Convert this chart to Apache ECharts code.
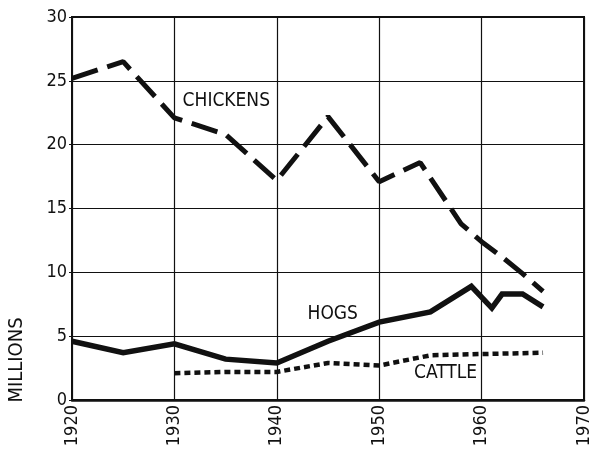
<!DOCTYPE html>
<html>
<head>
<meta charset="utf-8">
<script src="https://cdn.jsdelivr.net/npm/echarts@6/dist/echarts.min.js"></script>
<style>
  html, body { margin: 0; padding: 0; background: #ffffff; }
  #chart { width: 591px; height: 450px; }
</style>
</head>
<body>
<div id="chart"></div>
<script>
// Livestock and poultry on farms, millions head
const chickenYears  = [1920, 1925, 1930, 1935, 1940, 1945, 1950, 1954, 1958, 1960, 1962, 1964, 1966];
const chickenValues = [25.2, 26.5, 22.1, 20.8, 17.2, 22.2, 17.1, 18.6, 13.8, 12.4, 11.2, 9.9, 8.5];

const hogYears  = [1920, 1925, 1930, 1935, 1940, 1945, 1950, 1955, 1959, 1961, 1962, 1964, 1966];
const hogValues = [4.6, 3.7, 4.4, 3.2, 2.9, 4.6, 6.1, 6.9, 8.9, 7.2, 8.3, 8.3, 7.3];

const cattleYears  = [1930, 1935, 1940, 1945, 1950, 1955, 1960, 1966];
const cattleValues = [2.1, 2.2, 2.2, 2.9, 2.7, 3.5, 3.6, 3.7];

const xTicks = [1920, 1930, 1940, 1950, 1960, 1970];
const yTicks = [0, 5, 10, 15, 20, 25, 30];

const FONT = '"DejaVu Sans Condensed", "Liberation Sans Narrow", "DejaVu Sans", sans-serif';
const INK = '#111111';

const pairs = (xs, ys) => xs.map((x, i) => [x, ys[i]]);

// series name drawn as a text tag anchored at a data coordinate
const tag = (text, coord) => ({
  silent: true,
  symbol: 'circle',
  symbolSize: 0,
  data: [{ coord: coord }],
  label: {
    show: true,
    position: 'right',
    distance: 0,
    formatter: text,
    color: INK,
    fontFamily: FONT,
    fontSize: 19
  }
});

const chart = echarts.init(document.getElementById('chart'), null, { renderer: 'canvas' });

chart.setOption({
  backgroundColor: '#ffffff',
  animation: false,
  grid: {
    left: 72, right: 7, top: 17, bottom: 50,
    containLabel: false,
    outerBoundsMode: 'none',
    show: true,
    borderColor: INK,
    borderWidth: 2,
    backgroundColor: 'transparent'
  },
  graphic: [{
    type: 'text',
    x: 17,
    y: 360,
    rotation: Math.PI / 2,
    silent: true,
    style: {
      text: 'MILLIONS',
      fill: INK,
      font: '20px ' + FONT,
      textAlign: 'center',
      textVerticalAlign: 'middle'
    }
  }],
  xAxis: {
    type: 'value',
    min: xTicks[0],
    max: xTicks[xTicks.length - 1],
    interval: 10,
    axisLine: { show: true, onZero: false, lineStyle: { color: INK, width: 2.5 } },
    axisTick: { show: false },
    splitLine: { show: true, lineStyle: { color: INK, width: 1.2 } },
    axisLabel: {
      rotate: 90,
      margin: 5,
      color: INK,
      fontFamily: FONT,
      fontSize: 18,
      formatter: v => String(v)
    }
  },
  yAxis: {
    type: 'value',
    min: yTicks[0],
    max: yTicks[yTicks.length - 1],
    interval: 5,
    axisLine: { show: true, onZero: false, lineStyle: { color: INK, width: 2 } },
    axisTick: { show: true, length: 3, inside: false, lineStyle: { color: INK, width: 1 } },
    splitLine: { show: true, lineStyle: { color: INK, width: 1.2 } },
    axisLabel: {
      margin: 5,
      color: INK,
      fontFamily: FONT,
      fontSize: 18
    }
  },
  series: [
    {
      name: 'CHICKENS',
      type: 'line',
      data: pairs(chickenYears, chickenValues),
      showSymbol: false,
      symbol: 'none',
      lineStyle: { color: INK, width: 5, type: [27, 10], cap: 'butt' },
      markPoint: tag('CHICKENS', [1930.8, 23.4]),
      z: 5
    },
    {
      name: 'HOGS',
      type: 'line',
      data: pairs(hogYears, hogValues),
      showSymbol: false,
      symbol: 'none',
      lineStyle: { color: INK, width: 5.5, type: 'solid', join: 'miter' },
      markPoint: tag('HOGS', [1943.0, 6.7]),
      z: 5
    },
    {
      name: 'CATTLE',
      type: 'line',
      data: pairs(cattleYears, cattleValues),
      showSymbol: false,
      symbol: 'none',
      lineStyle: { color: INK, width: 4.5, type: [6, 4], cap: 'butt' },
      markPoint: tag('CATTLE', [1953.4, 2.1]),
      z: 5
    }
  ]
});
</script>
</body>
</html>
